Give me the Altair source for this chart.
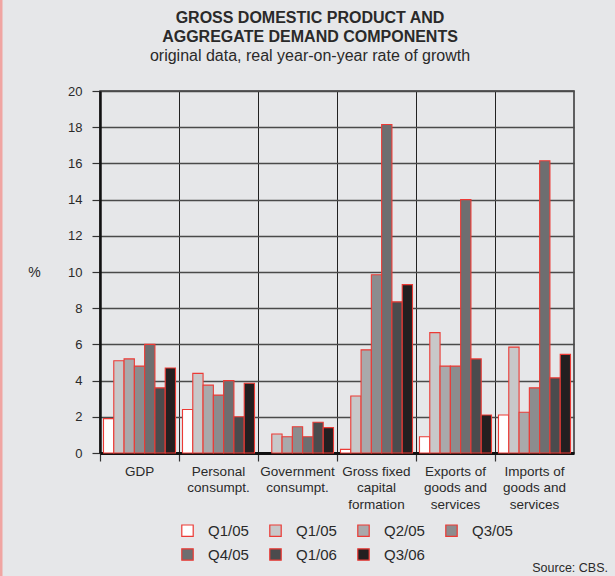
import altair as alt
import pandas as pd

groups = ["GDP", "Personal\nconsumpt.", "Government\nconsumpt.",
          "Gross fixed\ncapital\nformation", "Exports of\ngoods and\nservices",
          "Imports of\ngoods and\nservices"]
series_keys = ["A", "B", "C", "D", "E", "F", "G"]
series_labels = ["Q1/05", "Q1/05", "Q2/05", "Q3/05", "Q4/05", "Q1/06", "Q3/06"]
series_colors = ["#ffffff", "#c8c8c9", "#a9a9ab", "#8c8c8e", "#6e6e70", "#4b4b4d", "#231f20"]

s_A = [1.9, 2.4, None, 0.2, 0.9, 2.1]
s_B = [5.1, 4.4, 1.05, 3.15, 6.65, 5.85]
s_C = [5.2, 3.75, 0.9, 5.7, 4.8, 2.25]
s_D = [4.8, 3.2, 1.45, 9.85, 4.8, 3.6]
s_E = [6.0, 4.0, 0.9, 18.15, 14.0, 16.15]
s_F = [3.6, 2.0, 1.7, 8.35, 5.2, 4.15]
s_G = [4.7, 3.85, 1.4, 9.3, 2.1, 5.45]
series_values = [s_A, s_B, s_C, s_D, s_E, s_F, s_G]

rows = []
for key, vals in zip(series_keys, series_values):
    for g, v in zip(groups, vals):
        rows.append({"group": g, "series": key, "value": v})
df = pd.DataFrame(rows)

BG = "#e6e7e9"
label_map = "{" + ",".join(f"'{k}':'{l}'" for k, l in zip(series_keys, series_labels)) + "}"

bars = alt.Chart(df).mark_bar(stroke="#ec3a35", strokeWidth=1.1).encode(
    x=alt.X("group:N", sort=groups,
            scale=alt.Scale(paddingInner=0, paddingOuter=0),
            axis=alt.Axis(title=None, labelAngle=0, bandPosition=0,
                          labelExpr="split(datum.label, '\\n')",
                          labelFont="Liberation Sans", labelFontSize=13.5,
                          labelColor="#2a2a2a", labelLineHeight=16.5,
                          labelBaseline="top", labelPadding=3,
                          tickSize=8, tickColor="#333333", tickWidth=1.2,
                          domainColor="#111111", domainWidth=3,
                          grid=True, gridColor="#222222", gridWidth=1)),
    xOffset=alt.XOffset("series:N", sort=series_keys,
                        scale=alt.Scale(paddingInner=0, paddingOuter=0.34)),
    y=alt.Y("value:Q",
            scale=alt.Scale(domain=[0, 20], nice=False),
            axis=alt.Axis(title="%", titleAngle=0, titleX=-66, titleY=181,
                          titleAlign="center", titleBaseline="middle",
                          titleFont="Liberation Sans", titleFontSize=14,
                          titleFontWeight="normal", titleColor="#2a2a2a",
                          values=list(range(0, 21, 2)),
                          labelFont="Liberation Sans", labelFontSize=13,
                          labelColor="#2a2a2a", labelPadding=10,
                          tickSize=8, tickColor="#333333", tickWidth=1.2,
                          domainColor="#111111", domainWidth=2.5,
                          grid=True, gridColor="#4a4a4a", gridWidth=1.6)),
    color=alt.Color("series:N", sort=series_keys,
                    scale=alt.Scale(domain=series_keys, range=series_colors),
                    legend=alt.Legend(title=None, orient="none", legendX=80, legendY=432,
                                      direction="horizontal", columns=4,
                                      symbolType="square", symbolSize=130,
                                      symbolStrokeColor="#ec3a35", symbolStrokeWidth=1.2,
                                      symbolOpacity=1,
                                      labelExpr=label_map + "[datum.value]",
                                      labelFont="Liberation Sans", labelFontSize=15,
                                      labelColor="#2a2a2a", labelOffset=13,
                                      columnPadding=18, rowPadding=7, padding=0)),
)

note_df = pd.DataFrame({"t": ["Source: CBS."]})
note = alt.Chart(note_df).mark_text(font="Liberation Sans", fontSize=12.5, color="#2a2a2a",
                                    align="right", baseline="middle").encode(
    x=alt.value(508), y=alt.value(477), text="t:N")

border = alt.Chart(note_df).mark_rule(color="#f0a5a2", strokeWidth=3).encode(
    x=alt.value(-99), y=alt.value(-91), y2=alt.value(486))

chart = alt.layer(bars, note, border).properties(
    width=474, height=362,
    padding={"left": 100, "top": 91, "right": 41, "bottom": 123},
    autosize=alt.AutoSizeParams(type="none"),
    background=BG,
    title=alt.TitleParams(
        text=["GROSS DOMESTIC PRODUCT AND", "AGGREGATE DEMAND COMPONENTS"],
        subtitle="original data, real year-on-year rate of growth",
        font="Liberation Sans", fontSize=16, fontWeight="bold", color="#2a2a2a",
        lineHeight=19, subtitleFont="Liberation Sans", subtitleFontSize=16,
        subtitleColor="#2a2a2a", subtitlePadding=3, anchor="middle", frame="group",
        dx=-27, offset=-65),
).configure_view(fill=BG, stroke="#333333", strokeWidth=1.5)

chart.save("out.html", embed_options={"renderer": "svg", "actions": False})
